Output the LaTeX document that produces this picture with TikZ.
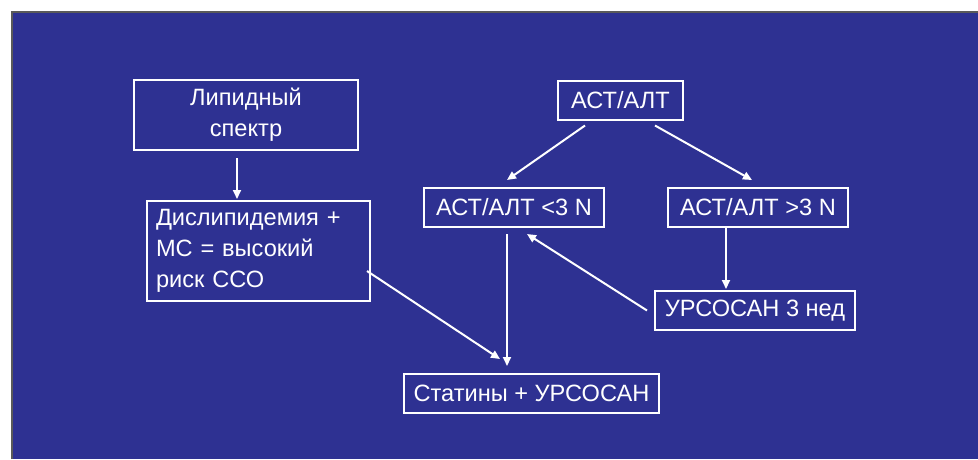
\documentclass[tikz,border=0pt]{standalone}
\usepackage{fontspec}
\setmainfont{Liberation Sans}
\usetikzlibrary{arrows.meta,positioning}
\definecolor{slideblue}{RGB}{46,49,146}
\definecolor{framegray}{RGB}{90,90,90}

\begin{document}
\begin{tikzpicture}[x=1pt,y=-1pt,
  stepbox/.style={draw=white, line width=2pt, text=white, inner sep=0pt,
    font=\fontsize{23.6}{31}\selectfont},
  flow/.style={draw=white, line width=2pt, -{Triangle[length=9pt,width=8pt]}}]
\useasboundingbox (0,0) rectangle (978,459);
% Slide background with thin frame
\fill[slideblue] (12,12) rectangle (978,459);
\draw[framegray, line width=1.5pt] (12,459) -- (12,12) -- (978,12);
% Boxes
\node[stepbox, minimum width=224pt, minimum height=70pt, align=center] (lip) at (246,115) {Липидный\\спектр};
\node[stepbox, text width=205pt, inner xsep=9pt, minimum height=100pt, align=left] (dys) at (258.5,251) {Дислипидемия +\\МС = высокий\\риск ССО};
\node[stepbox, minimum width=125pt, minimum height=39pt] (ast) at (620.5,100) {АСТ/АЛТ};
\node[stepbox, minimum width=180pt, minimum height=39pt] (lt) at (514,207.5) {АСТ/АЛТ <3 N};
\node[stepbox, minimum width=180pt, minimum height=39pt] (gt) at (758,207.5) {АСТ/АЛТ >3 N};
\node[stepbox, minimum width=200pt, minimum height=39pt] (urs) at (755,310.5) {УРСОСАН 3 нед};
\node[stepbox, minimum width=255pt, minimum height=39pt] (stat) at (531.5,393.5) {Статины + УРСОСАН};
% Connectors
\draw[flow] ([xshift=-9pt,yshift=-7pt]lip.south) -- ([xshift=-21.5pt,yshift=1pt]dys.north);
\draw[flow] ([xshift=-35.5pt,yshift=-5pt]ast.south) -- ([xshift=-7pt,yshift=7pt]lt.north);
\draw[flow] ([xshift=34.5pt,yshift=-5pt]ast.south) -- ([xshift=-6pt,yshift=7pt]gt.north);
\draw[flow] ([xshift=-7pt,yshift=-6pt]lt.south) -- ([xshift=-24.5pt,yshift=7pt]stat.north);
\draw[flow] ([xshift=-4pt,yshift=-20pt]dys.east) -- ([xshift=-31.5pt,yshift=14pt]stat.north);
\draw[flow] ([xshift=-32pt]gt.south) -- ([xshift=-29pt,yshift=1pt]urs.north);
\draw[flow] ([xshift=-7pt]urs.west) -- ([xshift=13pt,yshift=-6pt]lt.south);
\end{tikzpicture}
\end{document}
